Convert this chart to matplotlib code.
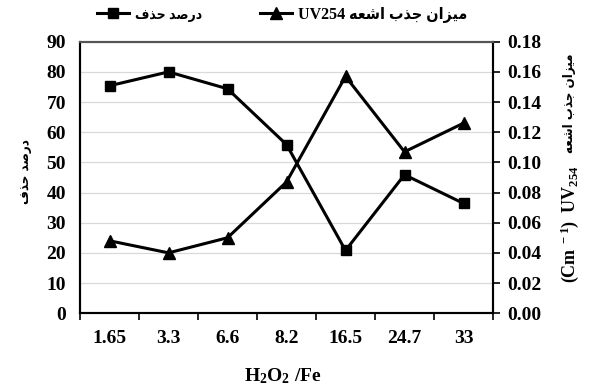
import matplotlib
matplotlib.use("Agg")
import matplotlib.pyplot as plt
import numpy as np

# --- data ---
ratio_labels = ["1.65", "3.3", "6.6", "8.2", "16.5", "24.7", "33"]
removal_pct = [75.4, 80.0, 74.4, 55.9, 20.8, 45.9, 36.4]
uv254_abs = [0.048, 0.040, 0.050, 0.087, 0.157, 0.107, 0.126]

# Persian strings written in visual order with presentation forms
# (matplotlib does no Arabic shaping or bidi)
removal_label = "\ufed1\ufeac\ufea3 \ufeaa\ufebb\ufead\ufea9"           # درصد حذف
uv_fa = "\ufeea\ufecc\ufeb7\ufe8d \ufe8f\ufeac\ufe9f \ufee5\ufe8d\ufeb0\ufef4\ufee3"  # میزان جذب اشعه

plt.rcParams.update({
    "mathtext.fontset": "custom",
    "mathtext.rm": "Liberation Serif:bold",
    "mathtext.it": "Liberation Serif:bold",
    "mathtext.bf": "Liberation Serif:bold",
    "mathtext.default": "rm",
})
SERIF = ["Liberation Serif", "DejaVu Sans"]

fig = plt.figure(figsize=(5.9, 3.9), dpi=100)
ax = fig.add_axes([0.1356, 0.197, 0.700, 0.696])
ax2 = ax.twinx()

x = np.arange(len(ratio_labels))
ax.plot(x, removal_pct, color="black", lw=2.2, marker="s", ms=7, zorder=4)
ax2.plot(x, uv254_abs, color="black", lw=2.2, marker="^", ms=8.5, zorder=3)

ax.set_xlim(-0.5, len(ratio_labels) - 0.5)
ax.set_ylim(0, 90)
ax2.set_ylim(0, 0.18)
ax.set_yticks(np.arange(0, 91, 10))
ax2.set_yticks(np.arange(0, 0.181, 0.02))
ax2.set_yticklabels([f"{v:.2f}" for v in np.arange(0, 0.181, 0.02)])

ax.set_xticks(x)
ax.set_xticklabels(ratio_labels)
ax.set_xticks(np.arange(-0.5, len(ratio_labels), 1.0), minor=True)
ax.tick_params(axis="x", which="major", length=0, pad=12)
ax.tick_params(axis="x", which="minor", length=5, width=1.2, direction="out")
ax.tick_params(axis="y", length=0, pad=10)
ax2.tick_params(axis="y", length=5, width=1.2, direction="out", pad=5)

for a in (ax, ax2):
    for lbl in a.get_xticklabels() + a.get_yticklabels():
        lbl.set_family(SERIF)
        lbl.set_fontweight("bold")
        lbl.set_fontsize(14)

ax.yaxis.grid(True, color="#d9d9d9", lw=0.9)
ax.set_axisbelow(True)
for a in (ax, ax2):
    for s in ("left", "bottom", "right"):
        a.spines[s].set_linewidth(1.5)
        a.spines[s].set_color("black")
    a.spines["top"].set_linewidth(1.5)
    a.spines["top"].set_color("#555555")

# axis labels
fig.text(0.48, 0.035, "H$_2$O$_2$ /Fe", ha="center", va="center",
         family=SERIF, weight="bold", fontsize=14)
fig.text(0.044, 0.56, removal_label, rotation=90, ha="center", va="center",
         family="DejaVu Sans", weight="bold", stretch="condensed", fontsize=9.5)
fig.text(0.966, 0.425, "(Cm$^{\\ -1}$)  UV$_{254}$", rotation=90, ha="center", va="center",
         family=SERIF, weight="bold", fontsize=13)
fig.text(0.966, 0.735, uv_fa, rotation=90, ha="center", va="center",
         family="DejaVu Sans", weight="bold", stretch="condensed", fontsize=9.5)

# legend on top
h_sq, = ax.plot([], [], color="black", lw=2.2, marker="s", ms=7)
h_tr, = ax.plot([], [], color="black", lw=2.2, marker="^", ms=8.5)
leg = fig.legend([h_sq, h_tr], [removal_label, "UV254 " + uv_fa],
                 loc="center", bbox_to_anchor=(0.478, 0.962), ncol=2, frameon=False,
                 handlelength=2.0, columnspacing=3.6, handletextpad=0.4,
                 prop={"family": SERIF, "weight": "bold", "stretch": "condensed", "size": 11.5})
leg.get_texts()[0].set_fontsize(10)

fig.savefig("out.png", dpi=100)
